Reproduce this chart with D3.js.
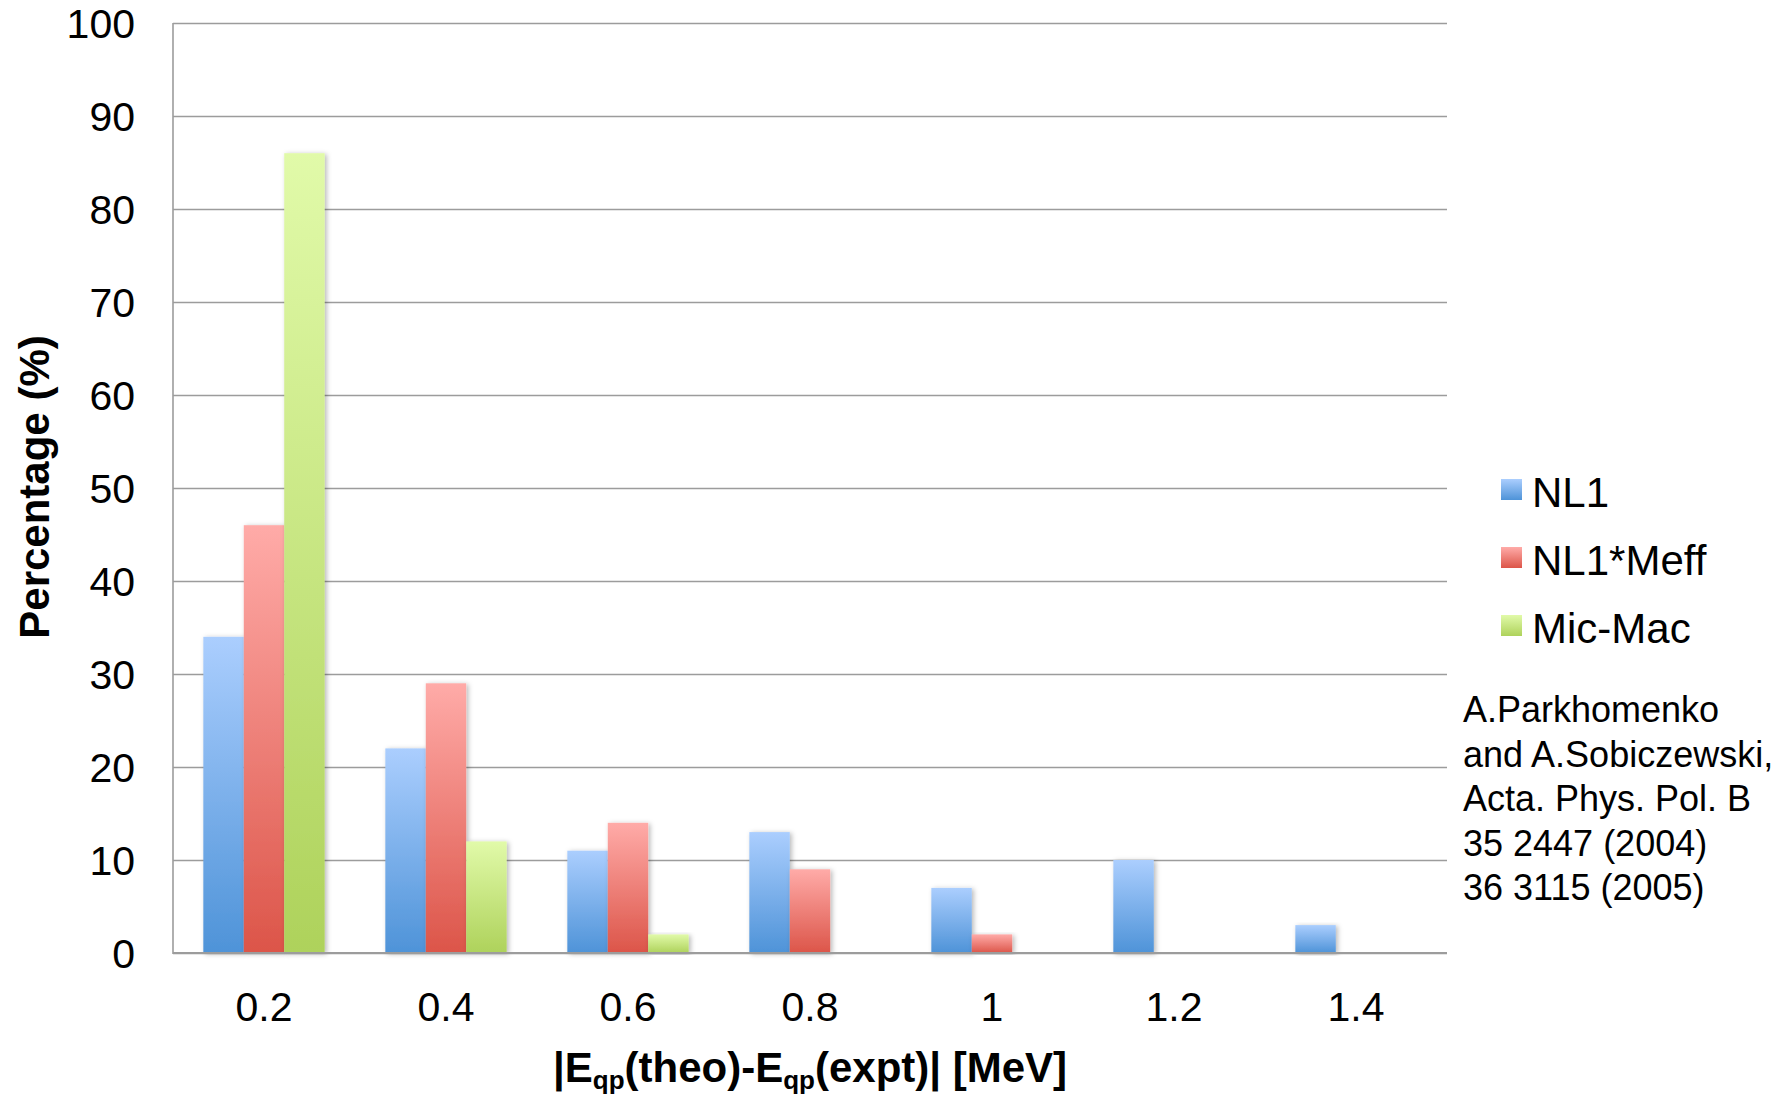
<!DOCTYPE html>
<html>
<head>
<meta charset="utf-8">
<script src="https://cdn.jsdelivr.net/npm/d3@7"></script>
<style>
  html, body { margin: 0; padding: 0; background: #fff; }
  svg { display: block; font-family: "Liberation Sans", Arial, Helvetica, sans-serif; }
</style>
</head>
<body>
<svg id="chart" width="1789" height="1097"></svg>
<script>
// ---- data ----
const categories = ["0.2", "0.4", "0.6", "0.8", "1", "1.2", "1.4"];
const seriesNames = ["NL1", "NL1*Meff", "Mic-Mac"];
const nl1 = [34, 22, 11, 13, 7, 10, 3];
const nl1Meff = [46, 29, 14, 9, 2, 0, 0];
const micMac = [86, 12, 2, 0, 0, 0, 0];
const yTicks = [0, 10, 20, 30, 40, 50, 60, 70, 80, 90, 100];
const citation = ["A.Parkhomenko", "and A.Sobiczewski,", "Acta. Phys. Pol. B", "35 2447 (2004)", "36 3115 (2005)"];

(function () {
const seriesValues = [nl1, nl1Meff, micMac];
const colors = [
  { top: "#abcefe", bottom: "#4e93d8" },
  { top: "#ffaba8", bottom: "#dc5549" },
  { top: "#e1faa9", bottom: "#aed25b" }
];

const svg = d3.select("#chart");
const pL = 173, pR = 1447, pT = 23, pB = 953;

const x = d3.scaleBand().domain(categories).range([pL, pR]).padding(0);
// Excel-like gap width 150%: bar = band/4.5, half-gap = 0.75 bar each side
const barW = x.bandwidth() / 4.5;
const inner = d3.scaleBand().domain(d3.range(seriesNames.length))
  .range([0.75 * barW, x.bandwidth() - 0.75 * barW]).padding(0);
const y = d3.scaleLinear().domain([0, 100]).range([pB, pT]);

const defs = svg.append("defs");
colors.forEach((c, i) => {
  const g = defs.append("linearGradient").attr("id", "grad" + i)
    .attr("x1", 0).attr("y1", 0).attr("x2", 0).attr("y2", 1);
  g.append("stop").attr("offset", "0%").attr("stop-color", c.top);
  g.append("stop").attr("offset", "100%").attr("stop-color", c.bottom);
});
const f = defs.append("filter").attr("id", "shadow")
  .attr("x", "-30%").attr("y", "-10%").attr("width", "160%").attr("height", "120%");
f.append("feDropShadow").attr("dx", 2).attr("dy", 1).attr("stdDeviation", 2.5)
  .attr("flood-color", "#000").attr("flood-opacity", 0.28);

// gridlines
const yAxis = d3.axisLeft(y).tickValues(yTicks).tickSize(-(pR - pL)).tickFormat("");
const gGrid = svg.append("g").attr("transform", `translate(${pL},0)`).call(yAxis);
gGrid.select(".domain").remove();
gGrid.selectAll(".tick line").attr("stroke", "#9c9c9c").attr("stroke-width", 1.4);

// y tick labels
svg.append("g").selectAll("text").data(yTicks).join("text")
  .attr("x", 135).attr("y", d => y(d)).attr("dy", "0.36em")
  .attr("text-anchor", "end").attr("font-size", 41).attr("fill", "#000")
  .text(d => d);

// bars
const rows = categories.map((c, ci) => ({ c, vals: seriesValues.map(s => s[ci]) }));
svg.append("g").selectAll("g").data(rows).join("g")
  .attr("transform", d => `translate(${x(d.c)},0)`)
  .selectAll("rect").data(d => d.vals.map((v, si) => ({ v, si })).filter(e => e.v > 0))
  .join("rect")
  .attr("x", d => inner(d.si)).attr("width", inner.bandwidth())
  .attr("y", d => y(d.v)).attr("height", d => y(0) - y(d.v))
  .attr("fill", d => `url(#grad${d.si})`)
  .attr("filter", "url(#shadow)");

// axis lines
svg.append("line").attr("x1", pL).attr("x2", pL).attr("y1", pT).attr("y2", pB + 1)
  .attr("stroke", "#9c9c9c").attr("stroke-width", 1.6);
svg.append("line").attr("x1", pL).attr("x2", pR).attr("y1", pB).attr("y2", pB)
  .attr("stroke", "#9c9c9c").attr("stroke-width", 2.2);

// x tick labels
svg.append("g").selectAll("text").data(categories).join("text")
  .attr("x", d => x(d) + x.bandwidth() / 2).attr("y", 1021)
  .attr("text-anchor", "middle").attr("font-size", 41).attr("fill", "#000")
  .text(d => d);

// axis titles
const xt = svg.append("text").attr("x", 810).attr("y", 1082)
  .attr("text-anchor", "middle").attr("font-size", 42).attr("font-weight", "bold").attr("fill", "#000");
xt.append("tspan").text("|E");
xt.append("tspan").attr("font-size", 26).attr("dy", 7).text("qp");
xt.append("tspan").attr("dy", -7).text("(theo)-E");
xt.append("tspan").attr("font-size", 26).attr("dy", 7).text("qp");
xt.append("tspan").attr("dy", -7).text("(expt)| [MeV]");

svg.append("text").attr("transform", "translate(34,487) rotate(-90)")
  .attr("text-anchor", "middle").attr("dominant-baseline", "central")
  .attr("font-size", 42).attr("font-weight", "bold").attr("fill", "#000")
  .text("Percentage (%)");

// legend
const lg = svg.append("g").selectAll("g").data(seriesNames).join("g")
  .attr("transform", (d, i) => `translate(1501,${479 + i * 68})`);
lg.append("rect").attr("width", 21).attr("height", 21).attr("fill", (d, i) => `url(#grad${i})`);
lg.append("text").attr("x", 31).attr("y", 28).attr("font-size", 42).attr("fill", "#000").text(d => d);

// citation
svg.append("g").selectAll("text").data(citation).join("text")
  .attr("x", 1463).attr("y", (d, i) => 722 + i * 44.5)
  .attr("font-size", 36).attr("fill", "#000").text(d => d);
})();
</script>
</body>
</html>
